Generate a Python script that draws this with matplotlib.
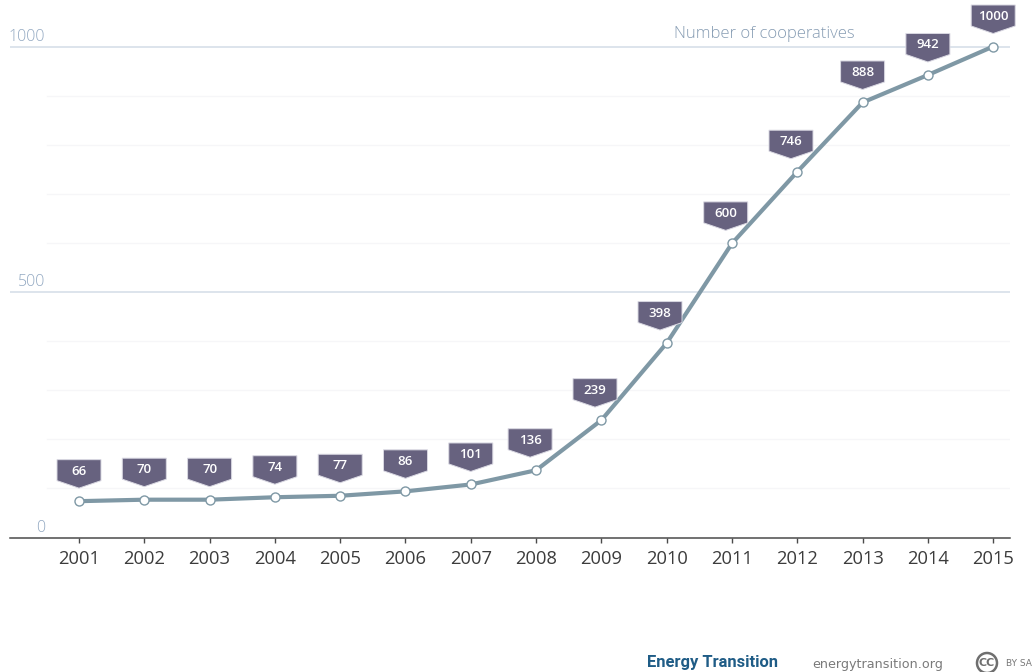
import matplotlib
matplotlib.use("Agg")
import matplotlib.pyplot as plt
from matplotlib.patches import Polygon, Circle
from matplotlib.transforms import Affine2D, ScaledTranslation

# ---- data ----
years = [2001, 2002, 2003, 2004, 2005, 2006, 2007, 2008, 2009, 2010, 2011, 2012, 2013, 2014, 2015]
value_labels = [66, 70, 70, 74, 77, 86, 101, 136, 239, 398, 600, 746, 888, 942, 1000]
# heights at which the line is actually drawn in the reference
drawn_heights = [74, 77, 77, 82, 85, 94, 108, 137, 239, 396, 599, 745, 886, 942, 1000]
major_levels = [500, 1000]
minor_levels = [100, 200, 300, 400, 600, 700, 800, 900]
y_tick_labels = [0, 500, 1000]

# ---- styles ----
W, H = 1035, 672
LINE = "#7f98a5"
BADGE = "#67627f"
BADGE_EDGE = "#d9d8e2"
AXIS = "#4a4a4a"
YTXT = "#93a9c2"
MAJOR = "#d3dde7"
MINOR = "#f6f6f8"
FONT = ["Open Sans", "DejaVu Sans"]

fig = plt.figure(figsize=(W / 100, H / 100), dpi=100, facecolor="white")
L, R, BASE = 10, 1010, 537.5
ax = fig.add_axes([L / W, (H - BASE) / H, (R - L) / W, BASE / H])
px_per_year = 65.3
px_per_unit = 0.491
ax.set_xlim(2001 - (79 - L) / px_per_year, 2001 + (R - 79) / px_per_year)
ax.set_ylim(0, BASE / px_per_unit)
ax.patch.set_alpha(0)
for s in ("top", "left", "right"):
    ax.spines[s].set_visible(False)
ax.spines["bottom"].set_color(AXIS)
ax.spines["bottom"].set_linewidth(1.1)

pix = Affine2D().scale(1, -1).translate(0, H)  # top-left pixel coordinates

for v in minor_levels:
    ax.axhline(v, xmin=37 / 1000, color=MINOR, lw=1.0, zorder=1)
for v in major_levels:
    ax.axhline(v, color=MAJOR, lw=1.1, zorder=1)

ax.plot(years, drawn_heights, color=LINE, lw=3.0, zorder=3, solid_joinstyle="round", clip_on=False)
ax.plot(years, drawn_heights, ls="none", marker="o", ms=6.5, mfc="white", mec=LINE, mew=1.0,
        zorder=4, clip_on=False)

ax.set_xticks(years)
ax.set_xticklabels([str(y) for y in years], fontsize=13.2, color="#3c3c3c", family=FONT)
ax.tick_params(axis="x", length=3.6, width=1.0, color=AXIS, pad=5.5)
ax.set_yticks([])

# y labels, right aligned above their grid lines
for v in y_tick_labels:
    ax.text(45, BASE - v * px_per_unit - 5.5, str(v), transform=pix, ha="right", va="baseline",
            fontsize=11.5, color=YTXT, family=FONT, fontweight="light", zorder=2)

# badges (a pentagon pointing at each data point)
badge_shift = {2008: -6, 2009: -6.4, 2010: -6.7, 2011: -6.3, 2012: -6.3}
shape = [(-22, 41.5), (22, 41.5), (22, 20.5), (0, 13), (-22, 20.5)]
for yr, dh, lab in zip(years, drawn_heights, value_labels):
    dx = badge_shift.get(yr, 0)
    tr = Affine2D().translate(dx, 0) + ScaledTranslation(yr, dh, ax.transData)
    ax.add_patch(Polygon(shape, closed=True, transform=tr, fc=BADGE, ec=BADGE_EDGE, lw=0.7,
                         zorder=5, clip_on=False))
    ax.text(0, 30, str(lab), transform=tr, ha="center", va="center", color="white",
            fontsize=9.5, fontweight="semibold", family=FONT, zorder=6, clip_on=False)

# annotations and footer
ax.text(674, 38.5, "Number of cooperatives", transform=pix, ha="left", va="baseline",
        fontsize=12, color="#869cb3", family=FONT, fontweight="light")
ax.text(647, 667, "Energy Transition", transform=pix, ha="left", va="baseline", fontsize=11.9,
        color="#1f5c86", fontweight="bold", family=["Roboto", "DejaVu Sans"])
ax.text(812, 668, "energytransition.org", transform=pix, ha="left", va="baseline", fontsize=9.2,
        color="#7a7a7a", family=["DejaVu Sans"])
ax.add_patch(Circle((987, 663), 10, transform=pix, fc="white", ec="#6f6f6f", lw=1.8, clip_on=False))
ax.text(987, 663, "CC", transform=pix, ha="center", va="center", fontsize=8, fontweight="bold",
        color="#6f6f6f", family=["DejaVu Sans"])
ax.text(1006, 666, "BY SA", transform=pix, ha="left", va="baseline", fontsize=6.5,
        color="#777777", family=["DejaVu Sans"])

fig.savefig("out.png", dpi=100, facecolor="white")
